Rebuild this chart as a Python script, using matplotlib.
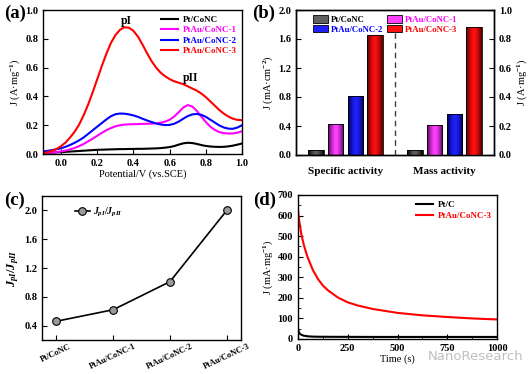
import numpy as np
import matplotlib
matplotlib.use("Agg")
import matplotlib.pyplot as plt
from matplotlib.colors import LinearSegmentedColormap
from matplotlib.patches import Patch

plt.rcParams["font.family"] = "Liberation Serif"
plt.rcParams["font.weight"] = "bold"
plt.rcParams["font.size"] = 7.5
plt.rcParams["mathtext.fontset"] = "custom"
plt.rcParams["mathtext.rm"] = "Liberation Serif:bold"
plt.rcParams["mathtext.it"] = "Liberation Serif:italic:bold"
plt.rcParams["mathtext.bf"] = "Liberation Serif:bold"
plt.rcParams["xtick.direction"] = "in"
plt.rcParams["ytick.direction"] = "in"
plt.rcParams["axes.linewidth"] = 1.0

# ---- data ----
samples = ["Pt/CoNC", "PtAu/CoNC-1", "PtAu/CoNC-2", "PtAu/CoNC-3"]
colors = ["black", "#ff00ff", "#0000ff", "#ff0000"]

# (a) CV curves, potential from -0.1 to 1.0 V every 0.025 V
potential = np.linspace(-0.1, 1.0, 45)
j_pt = [0.005, 0.007, 0.009, 0.011, 0.013, 0.015, 0.017, 0.019, 0.021, 0.023,
        0.025, 0.027, 0.029, 0.030, 0.031, 0.032, 0.033, 0.034, 0.034, 0.035,
        0.035, 0.036, 0.036, 0.037, 0.038, 0.039, 0.041, 0.044, 0.048, 0.055,
        0.065, 0.074, 0.078, 0.076, 0.070, 0.062, 0.056, 0.052, 0.050, 0.049,
        0.050, 0.053, 0.058, 0.065, 0.073]
j_au1 = [0.005, 0.007, 0.010, 0.013, 0.018, 0.024, 0.032, 0.042, 0.055, 0.070,
         0.088, 0.107, 0.127, 0.147, 0.165, 0.180, 0.192, 0.200, 0.204, 0.206,
         0.207, 0.208, 0.209, 0.210, 0.211, 0.213, 0.217, 0.225, 0.238, 0.260,
         0.290, 0.322, 0.340, 0.330, 0.300, 0.260, 0.222, 0.190, 0.167, 0.152,
         0.145, 0.142, 0.143, 0.148, 0.158]
j_au2 = [0.018, 0.022, 0.027, 0.033, 0.040, 0.050, 0.063, 0.078, 0.095, 0.115,
         0.140, 0.165, 0.190, 0.215, 0.240, 0.262, 0.276, 0.281, 0.280, 0.275,
         0.268, 0.258, 0.245, 0.233, 0.222, 0.212, 0.205, 0.201, 0.202, 0.210,
         0.225, 0.245, 0.263, 0.275, 0.278, 0.272, 0.258, 0.238, 0.218, 0.198,
         0.184, 0.176, 0.175, 0.184, 0.200]
j_au3 = [0.005, 0.012, 0.022, 0.035, 0.055, 0.080, 0.115, 0.155, 0.205, 0.270,
         0.345, 0.430, 0.520, 0.610, 0.695, 0.770, 0.825, 0.862, 0.880, 0.877,
         0.855, 0.815, 0.760, 0.700, 0.645, 0.600, 0.565, 0.540, 0.520, 0.505,
         0.495, 0.485, 0.470, 0.455, 0.440, 0.420, 0.395, 0.365, 0.335, 0.305,
         0.280, 0.260, 0.245, 0.237, 0.235]

# (b) activities
specific_act = [0.07, 0.43, 0.81, 1.66]   # mA cm^-2
mass_act = [0.035, 0.21, 0.28, 0.88]      # A mg^-1
groups = ["Specific activity", "Mass activity"]

# (c) ratio
ratio = [0.46, 0.62, 1.01, 2.0]

# (d) chronoamperometry
t_red = [0, 3, 6, 10, 15, 20, 30, 40, 50, 75, 100, 125, 150, 200, 250, 300,
         375, 500, 625, 750, 875, 1000]
j_red = [630, 600, 575, 550, 520, 495, 455, 422, 393, 335, 292, 260, 237, 202,
         178, 163, 146, 127, 115, 107, 100, 95]
t_blk = [0, 3, 6, 10, 20, 30, 50, 75, 100, 200, 400, 600, 800, 1000]
j_blk = [50, 38, 30, 25, 19, 16, 13, 11.5, 11, 10.5, 10, 10, 10, 10]

W, H = 529, 374
fig = plt.figure(figsize=(W / 100, H / 100), dpi=100)


def box(l, t, r, b):
    return [l / W, 1 - b / H, (r - l) / W, (b - t) / H]


# ---------- (a) ----------
ax = fig.add_axes(box(43, 10, 242, 154))
for y, c, s in zip([j_pt, j_au1, j_au2, j_au3], colors, samples):
    ax.plot(potential, y, color=c, lw=1.5, label=s)
ax.set_xlim(-0.1, 1.0)
ax.set_ylim(0, 1.0)
ax.set_xticks(np.arange(0, 1.01, 0.2))
ax.set_yticks(np.arange(0, 1.01, 0.2))
ax.set_xlabel("Potential/V (vs.SCE)", labelpad=1)
ax.set_ylabel("J (A·mg$^{-1}$)", labelpad=2)
ax.text(0.36, 0.925, "pI", fontsize=8.5, ha="center", va="center")
ax.text(0.715, 0.53, "pII", fontsize=8.5, ha="center", va="center")
leg = ax.legend(loc="upper right", frameon=False, fontsize=6.5, handlelength=1.9,
                labelspacing=0.25, borderaxespad=0.2, handletextpad=0.5)
for txt, c in zip(leg.get_texts(), colors):
    txt.set_color(c)
fig.text(4 / W, 1 - 13 / H, "(a)", fontsize=13.5, va="center")

# ---------- (b) ----------
axb = fig.add_axes(box(296, 10, 494, 155))
axb2 = axb.twinx()
dark = ["#000000", "#500050", "#000050", "#500000"]
bright = ["#606060", "#ff40ff", "#2020ff", "#ff1010"]
bw = 0.78
grad = 1 - np.abs(np.linspace(-1, 1, 64)) ** 1.5


def grad_bars(a, xs, vals):
    bars = a.bar(xs, vals, width=bw, edgecolor="black", linewidth=0.6,
                 facecolor="none", zorder=3)
    for b, d, br in zip(bars, dark, bright):
        cm = LinearSegmentedColormap.from_list("g", [d, br])
        x0, y0 = b.get_x(), b.get_y()
        im = a.imshow(grad[np.newaxis, :],
                      extent=[x0, x0 + b.get_width(), y0, y0 + b.get_height()],
                      aspect="auto", cmap=cm, zorder=2, vmin=0, vmax=1)
        im.set_clip_path(b)


grad_bars(axb, [1, 2, 3, 4], specific_act)
grad_bars(axb2, [6, 7, 8, 9], mass_act)
axb.set_xlim(0, 10)
axb.set_ylim(0, 2.0)
axb2.set_ylim(0, 1.0)
axb2.set_xlim(0, 10)
axb.set_yticks(np.arange(0, 2.01, 0.4))
axb2.set_yticks(np.arange(0, 1.01, 0.2))
axb.set_xticks([2.5, 7.5])
axb.set_xticklabels(groups, fontsize=8)
axb.tick_params(axis="x", length=0, pad=9)
axb.axvline(5, ymax=0.84, color="#404040", ls=(0, (4, 3)), lw=1.0)
axb.set_ylabel("J (mA·cm$^{-2}$)", labelpad=2)
axb2.set_ylabel("J (A·mg$^{-1}$)", labelpad=2)
order = [0, 2, 1, 3]
handles = [Patch(facecolor=bright[i], edgecolor="black", linewidth=0.6) for i in order]
labels = [samples[i] for i in order]
legb = axb.legend(handles, labels, loc="upper left", bbox_to_anchor=(0.06, 1.0),
                  ncol=2, frameon=False, fontsize=6.3,
                  handlelength=1.7, handleheight=0.9, columnspacing=0.5, labelspacing=0.15,
                  borderaxespad=0.2, handletextpad=0.3)
for txt, i in zip(legb.get_texts(), order):
    txt.set_color(colors[i])
fig.text(252 / W, 1 - 13 / H, "(b)", fontsize=13.5, va="center")

# ---------- (c) ----------
axc = fig.add_axes(box(42, 196, 241, 340))
axc.plot(range(4), ratio, color="black", lw=1.2, marker="o", ms=5.5,
         markerfacecolor="#9a9a9a", markeredgecolor="black", markeredgewidth=0.8,
         label=r"$J_{pI}/J_{pII}$")
axc.set_xlim(-0.25, 3.25)
axc.set_ylim(0.2, 2.2)
axc.set_yticks(np.arange(0.4, 2.01, 0.4))
axc.set_xticks(range(4))
axc.set_xticklabels(samples, rotation=25, ha="center", fontsize=6)
axc.tick_params(axis="x", pad=2)
axc.set_ylabel(r"$J_{pI}/J_{pII}$", fontsize=9, labelpad=2)
axc.legend(loc="upper left", bbox_to_anchor=(0.13, 0.98), frameon=False, fontsize=7,
           handlelength=1.6, borderaxespad=0.3, handletextpad=0.3)
fig.text(4 / W, 1 - 200 / H, "(c)", fontsize=13.5, va="center")

# ---------- (d) ----------
axd = fig.add_axes(box(298, 195, 497, 339))
axd.plot(t_blk, j_blk, color="black", lw=1.5, label="Pt/C")
axd.plot(t_red, j_red, color="red", lw=1.5, label="PtAu/CoNC-3")
axd.set_xlim(0, 1000)
axd.set_ylim(0, 700)
axd.set_xticks(np.arange(0, 1001, 250))
axd.set_yticks(np.arange(0, 701, 100))
axd.set_xticks(np.arange(0, 1001, 125), minor=True)
axd.set_yticks(np.arange(0, 701, 50), minor=True)
axd.tick_params(which="minor", length=2, direction="in")
axd.set_xlabel("Time (s)", labelpad=1)
axd.set_ylabel("J (mA·mg$^{-1}$)", labelpad=2)
legd = axd.legend(loc="upper right", frameon=False, fontsize=6.5, handlelength=1.9,
                  labelspacing=0.3, borderaxespad=0.2, handletextpad=0.5)
for txt, c in zip(legd.get_texts(), ["black", "red"]):
    txt.set_color(c)
fig.text(253 / W, 1 - 200 / H, "(d)", fontsize=13.5, va="center")

fig.text(476 / W, 1 - 356 / H, "NanoResearch", family="DejaVu Sans", weight="normal",
         fontsize=9.5, color="#b8b8b8", ha="center", va="center", alpha=0.9, zorder=10)

fig.savefig("out.png", dpi=100)
